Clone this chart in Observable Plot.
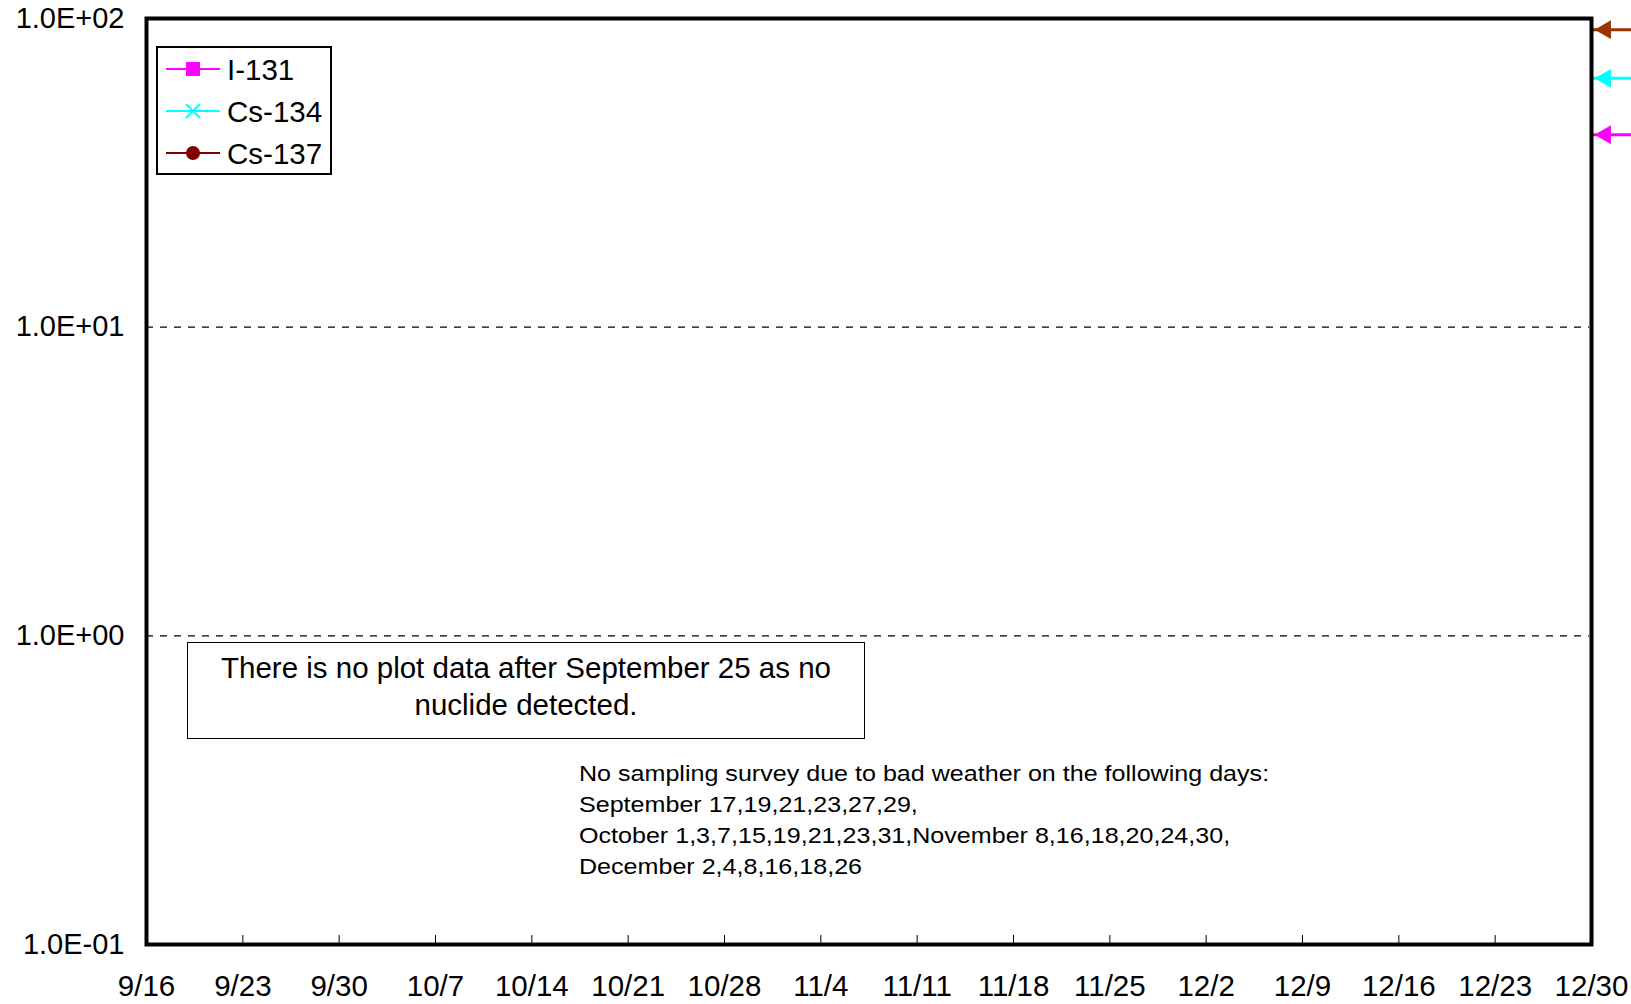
<!DOCTYPE html>
<html><head><meta charset="utf-8">
<script src="https://cdn.jsdelivr.net/npm/d3@7"></script>
<script src="https://cdn.jsdelivr.net/npm/@observablehq/plot@0.6"></script>
<style>
body{margin:0;background:#fff;font-family:"Liberation Sans",Arial,sans-serif;}
#wrap{position:relative;width:1631px;height:1004px;overflow:hidden;background:#fff}
#chart svg{display:block}
#legend{position:absolute;left:156px;top:46px;width:172px;height:125px;border:2px solid #000;background:#fff}
#note{position:absolute;left:187px;top:642px;width:676px;height:89px;border:1.5px solid #000;background:#fff;
  font-size:29.5px;line-height:37px;text-align:center;padding-top:6px;box-sizing:content-box;color:#000;white-space:nowrap}
#days{position:absolute;left:579px;top:758px;font-size:22px;line-height:31px;color:#000;white-space:nowrap;
  transform:scaleX(1.14);transform-origin:0 0}
</style></head><body>
<div id="wrap"><div id="chart"></div><div id="legend"></div>
<div id="note">There is no plot data after September 25 as no<br>nuclide detected.</div>
<div id="days"></div></div>
<script>
// ---- data ----
const xTickLabels = ["9/16","9/23","9/30","10/7","10/14","10/21","10/28","11/4","11/11","11/18","11/25","12/2","12/9","12/16","12/23","12/30"];
const year = 2011;
const yTicks = [0.1, 1, 10, 100];
const gridValues = [1, 10];
const seriesNames = ["I-131", "Cs-134", "Cs-137"];
const seriesColors = ["#FF00FF", "#00FFFF", "#800000"];
const seriesSymbols = ["square", "times", "circle"];
// no nuclide detected in this period: series are empty
const i131 = [];
const cs134 = [];
const cs137 = [];
const arrowValues = [92, 64, 42];
const arrowColors = ["#993300", "#00FFFF", "#FF00FF"];
const noteLines = [
  "No sampling survey due to bad weather on the following days:",
  "September 17,19,21,23,27,29,",
  "October 1,3,7,15,19,21,23,31,November 8,16,18,20,24,30,",
  "December 2,4,8,16,18,26"
];

// ---- build ----
const toDate = s => { const [m, d] = s.split("/").map(Number); return new Date(Date.UTC(year, m - 1, d)); };
const xTicks = xTickLabels.map(toDate);
const xStart = xTicks[0], xEnd = xTicks[xTicks.length - 1];
const arrowStart = new Date(xEnd.getTime() + 3 * 864e5);
const arrows = arrowValues.map((v, i) => ({v, c: arrowColors[i]}));
const sciFmt = d => {
  const e = Math.floor(Math.log10(d) + 1e-9);
  const m = (d / Math.pow(10, e)).toFixed(1);
  return m + "E" + (e < 0 ? "-" : "+") + String(Math.abs(e)).padStart(2, "0");
};
const series = [
  ...i131.map(d => ({...d, s: seriesNames[0]})),
  ...cs134.map(d => ({...d, s: seriesNames[1]})),
  ...cs137.map(d => ({...d, s: seriesNames[2]}))
];

const W = 1631, H = 1004;
const mL = 146, mR = 40, mT = 18, mB = 60;
const plotH = H - mT - mB;

const chart = Plot.plot({
  width: W, height: H,
  marginLeft: mL, marginRight: mR, marginTop: mT, marginBottom: mB,
  style: {fontFamily: '"Liberation Sans", Arial, sans-serif', fontSize: "29px", color: "#000", background: "#fff", overflow: "visible"},
  x: {type: "utc", domain: [xStart, xEnd]},
  y: {type: "log", domain: [0.1, 100]},
  color: {domain: seriesNames, range: seriesColors},
  marks: [
    Plot.ruleY(gridValues, {stroke: "#000", strokeWidth: 1.2, strokeDasharray: "7,7", insetRight: 2}),
    Plot.line(series, {x: "date", y: "value", z: "s", stroke: "s"}),
    Plot.tickX(xTicks, {x: d => d, stroke: "#000", strokeWidth: 1, insetTop: plotH - 9}),
    Plot.axisX(xTicks, {tickSize: 0, tickPadding: 31, tickFormat: (d, i) => xTickLabels[i], fontSize: 29.5, label: null}),
    Plot.axisY(yTicks, {tickSize: 0, tickPadding: 22, tickFormat: sciFmt, fontSize: 29, label: null}),
    Plot.link(arrows, {x1: arrowStart, x2: xEnd, y1: "v", y2: "v", stroke: "c", strokeWidth: 3, clip: false}),
    Plot.dot(arrows, {x: xEnd, y: "v", symbol: "triangle", r: 7, rotate: -90, fill: "c", stroke: "none", dx: 14}),
    Plot.frame({stroke: "#000", strokeWidth: 4})
  ]
});
document.getElementById("chart").appendChild(chart);

// legend
const lg = d3.select("#legend").append("svg").attr("width", 172).attr("height", 125);
seriesNames.forEach((n, i) => {
  const y = 21 + i * 42;
  const g = lg.append("g");
  g.append("line").attr("x1", 8).attr("x2", 62).attr("y1", y).attr("y2", y).attr("stroke", seriesColors[i]).attr("stroke-width", 2);
  if (seriesSymbols[i] === "square") g.append("rect").attr("x", 28).attr("y", y - 7).attr("width", 14).attr("height", 14).attr("fill", seriesColors[i]);
  if (seriesSymbols[i] === "circle") g.append("circle").attr("cx", 35).attr("cy", y).attr("r", 7).attr("fill", seriesColors[i]);
  if (seriesSymbols[i] === "times") g.append("path").attr("d", `M28,${y-7}L42,${y+7}M42,${y-7}L28,${y+7}`).attr("stroke", seriesColors[i]).attr("stroke-width", 2);
  g.append("text").attr("x", 69).attr("y", y).attr("dy", "0.36em").attr("font-size", 29.5).attr("font-family", '"Liberation Sans", Arial, sans-serif').text(n);
});

document.getElementById("days").innerHTML = noteLines.join("<br>");
</script></body></html>
